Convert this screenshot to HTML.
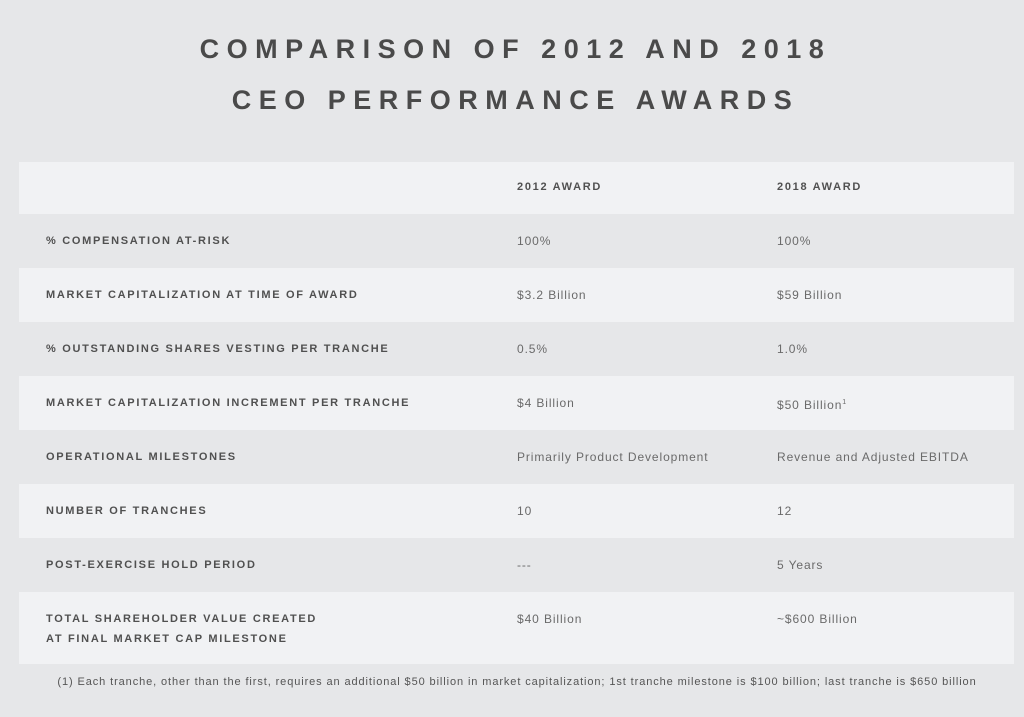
<!DOCTYPE html>
<html><head><style>
body{margin:0;width:1024px;height:717px;background:#e6e7e9;font-family:"Liberation Sans",sans-serif;position:relative;overflow:hidden}
.t{position:absolute;left:0;width:1024px;text-align:center;font-size:27px;font-weight:bold;letter-spacing:7.5px;color:#4a4a4a;line-height:30px;text-indent:7px}
.r{position:absolute;left:19px;width:995px}
.l{background:#f1f2f4}
.c{position:absolute;font-size:12px;letter-spacing:0.9px;color:#6a6a6a;line-height:20px;white-space:nowrap}
.b{font-weight:bold;color:#505050;letter-spacing:1.7px;font-size:11px}
.fn{position:absolute;left:0;width:1034px;text-align:center;top:676px;font-size:11px;letter-spacing:0.9px;color:#555;white-space:nowrap}
sup{font-size:7px;line-height:0;vertical-align:5px}
</style></head><body>
<div class="t" style="top:34px">COMPARISON OF 2012 AND 2018</div>
<div class="t" style="top:85px">CEO PERFORMANCE AWARDS</div>
<div class="r l" style="top:162px;height:52px"></div>
<div class="r l" style="top:268px;height:54px"></div>
<div class="r l" style="top:376px;height:54px"></div>
<div class="r l" style="top:484px;height:54px"></div>
<div class="r l" style="top:592px;height:72px"></div>
<div class="c b" style="left:517px;top:177px">2012 AWARD</div>
<div class="c b" style="left:777px;top:177px">2018 AWARD</div>

<div class="c b" style="left:46px;top:231px">% COMPENSATION AT-RISK</div>
<div class="c" style="left:517px;top:231px">100%</div><div class="c" style="left:777px;top:231px">100%</div>
<div class="c b" style="left:46px;top:285px">MARKET CAPITALIZATION AT TIME OF AWARD</div>
<div class="c" style="left:517px;top:285px">$3.2 Billion</div><div class="c" style="left:777px;top:285px">$59 Billion</div>
<div class="c b" style="left:46px;top:339px">% OUTSTANDING SHARES VESTING PER TRANCHE</div>
<div class="c" style="left:517px;top:339px">0.5%</div><div class="c" style="left:777px;top:339px">1.0%</div>
<div class="c b" style="left:46px;top:393px">MARKET CAPITALIZATION INCREMENT PER TRANCHE</div>
<div class="c" style="left:517px;top:393px">$4 Billion</div><div class="c" style="left:777px;top:395px">$50 Billion<sup>1</sup></div>
<div class="c b" style="left:46px;top:447px">OPERATIONAL MILESTONES</div>
<div class="c" style="left:517px;top:447px">Primarily Product Development</div><div class="c" style="left:777px;top:447px">Revenue and Adjusted EBITDA</div>
<div class="c b" style="left:46px;top:501px">NUMBER OF TRANCHES</div>
<div class="c" style="left:517px;top:501px">10</div><div class="c" style="left:777px;top:501px">12</div>
<div class="c b" style="left:46px;top:555px">POST-EXERCISE HOLD PERIOD</div>
<div class="c" style="left:517px;top:555px">---</div><div class="c" style="left:777px;top:555px">5 Years</div>
<div class="c b" style="left:46px;top:609px">TOTAL SHAREHOLDER VALUE CREATED<br>AT FINAL MARKET CAP MILESTONE</div>
<div class="c" style="left:517px;top:609px">$40 Billion</div><div class="c" style="left:777px;top:609px">~$600 Billion</div>
<div class="fn">(1) Each tranche, other than the first, requires an additional $50 billion in market capitalization; 1st tranche milestone is $100 billion; last tranche is $650 billion</div>
</body></html>
